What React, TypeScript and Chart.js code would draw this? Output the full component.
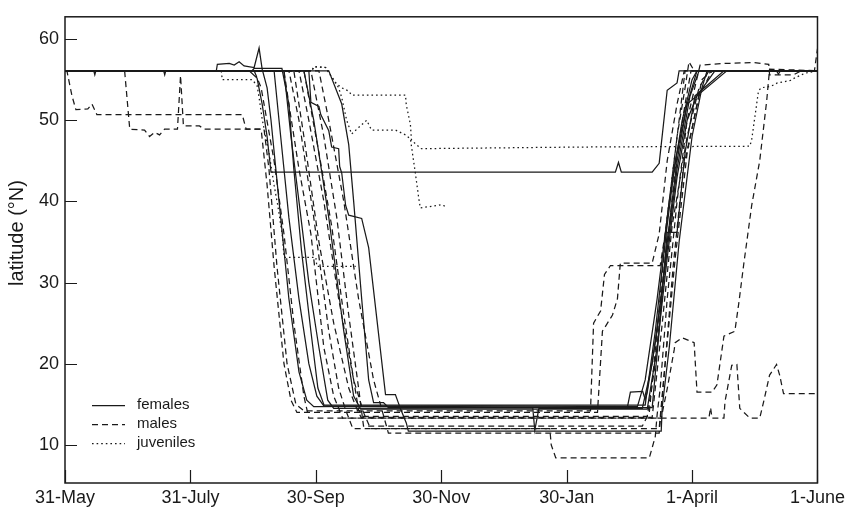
import { useEffect, useRef } from "react";
import { Chart, registerables } from "chart.js";

Chart.register(...registerables);

// x values are days since 31 May; y values are latitude (°N)
const xTickDays = [0, 61, 122, 183, 244, 305, 366];
const xTickLabels = ["31-May", "31-July", "30-Sep", "30-Nov", "30-Jan", "1-April", "1-June"];
const yTicks = [10, 20, 30, 40, 50, 60];
const legendLabels = ["females", "males", "juveniles"];

type Pt = [number, number];

// ---- females (solid) ----
const female1: Pt[] = [[0, 56.1], [89.6, 56.1], [93.4, 55.2], [95.9, 52], [98.3, 48], [100.2, 43.6], [267.7, 43.6], [269.2, 44.8], [270.6, 43.6], [285.6, 43.6], [289, 44.7], [290, 47], [292.9, 53.7], [297.7, 54.6], [298.7, 56.1], [366, 56.1]];
const female2: Pt[] = [[0, 56.1], [73.6, 56.1], [74.1, 56.9], [79.9, 57.0], [82.3, 56.8], [84.7, 57.2], [87.1, 56.7], [92, 56.5], [94.4, 58.9], [95.9, 56.3], [98.3, 54], [100.2, 50], [104.1, 40], [108.9, 28], [113.8, 19], [117.6, 15.5], [121, 14.7], [200, 14.8], [278.4, 14.7], [282.2, 18], [288, 28], [293.9, 40], [300.2, 50], [305, 55], [307.4, 56.1], [346, 56.1], [347, 55.7], [348, 56.1], [366, 56.1]];
const female3: Pt[] = [[0, 56.1], [118.6, 56.1], [119.6, 52.2], [123.5, 51.7], [124.4, 50.7], [128.3, 48.7], [129.7, 46.7], [133.1, 46.5], [133.6, 44.3], [134.6, 43.5], [136.5, 39.5], [138, 38.3], [144.3, 37.9], [147.7, 34.3], [155.9, 16.2], [160.7, 16.2], [163.1, 14.5], [166, 12.7], [167, 11.7], [290, 11.7], [290.5, 14.7], [293.9, 22], [298.7, 35], [305, 48], [309.8, 54], [312.3, 56.1], [366, 56.1]];
const female4: Pt[] = [[0, 56.1], [14, 56.1], [14.5, 55.6], [15, 56.1], [101.7, 56.1], [104.1, 50], [108.9, 38], [113.8, 28], [118.6, 20], [122.5, 16], [125.9, 14.8], [273.5, 14.6], [275, 16.5], [281, 16.6], [282.2, 15.6], [283.2, 16.5], [288, 24], [292.9, 35], [297.7, 45], [302.6, 52], [307.4, 56.1], [366, 56.1]];
const female5: Pt[] = [[0, 56.1], [106.5, 56.1], [109.9, 48], [113.8, 40], [118.6, 30], [123.5, 22], [127.8, 15.5], [130.7, 14.5], [227.5, 14.6], [228.5, 11.8], [230.5, 14.5], [280.8, 14.5], [285.6, 20], [291.9, 32], [297.7, 44], [304, 53], [308.4, 56.1], [366, 56.1]];
const female6: Pt[] = [[0, 56.1], [48, 56.1], [48.5, 55.6], [49, 56.1], [116.2, 56.1], [121, 50], [128.3, 38], [135.6, 24], [140.4, 16], [143.8, 14.4], [283.2, 14.4], [288, 22], [292.9, 33], [297.7, 43], [302.6, 50], [307.4, 53], [316.1, 56.1], [366, 56.1]];
const female7: Pt[] = [[0, 56.1], [128.3, 56.1], [134.6, 52], [138, 47], [140.4, 40], [144.3, 28], [147.7, 18], [150.1, 15.2], [154.9, 15.2], [157.3, 14.6], [285.6, 14.6], [289, 24], [292.9, 36.2], [297.7, 36.2], [301.6, 46], [306.4, 53], [320.5, 56.1], [366, 56.1]];
const female8: Pt[] = [[0, 56.1], [91, 56.1], [92, 56.4], [105.5, 56.4], [108.9, 52], [111.3, 44], [115, 34], [119.6, 24], [123, 17], [126, 14.9], [282.2, 14.9], [287.1, 24], [291.9, 35], [296.8, 45], [302.6, 52], [321.9, 56.1], [366, 56.1]];

// ---- males (dashed) ----
const male1: Pt[] = [[0, 56.1], [1, 56], [3.4, 53], [5.3, 51.3], [11.1, 51.4], [13.1, 52], [15.5, 50.7], [86.2, 50.7], [88.1, 48.9], [96.8, 48.9], [99.2, 44], [103.1, 32], [108, 20], [112.3, 15], [116.2, 14.2], [255.6, 14.2], [257.1, 25], [260.5, 26.5], [262.4, 31], [265.3, 32.1], [289.5, 32.1], [291.9, 36], [293.9, 40], [297.7, 48], [301.6, 54], [303.5, 57.2], [306, 56.1], [366, 56.1]];
const male2: Pt[] = [[0, 56.1], [29, 56.1], [31.5, 48.9], [38.7, 48.8], [41.1, 48.0], [43.6, 48.5], [46, 48.2], [48.4, 48.9], [54.7, 48.9], [56.2, 55.5], [57.6, 49.3], [65.4, 49.3], [67.8, 48.9], [95.4, 48.9], [98.3, 42], [101.7, 32], [106.5, 20], [109.9, 15.5], [112.8, 14.0], [259, 14.0], [261.4, 24], [266.3, 26], [268.7, 28], [270.1, 32.4], [285.6, 32.4], [289, 36], [292.9, 45], [297.7, 52], [301.2, 56.1], [366, 56.1]];
const male3: Pt[] = [[0, 56.1], [92, 56.1], [95.4, 54], [101.7, 45], [106.5, 36], [111.3, 25], [116.2, 16], [118.6, 13.3], [290, 13.3], [292.9, 16.9], [296.3, 21.7], [296.8, 22.6], [300.2, 23.2], [306, 22.6], [307.4, 16.5], [314.7, 16.5], [317.1, 17.4], [320.5, 23.4], [325.8, 24], [327.7, 27.4], [330.1, 32.2], [334, 39.5], [337.9, 45], [341.3, 52.4], [342.7, 56.3], [366, 56.1]];
const male4: Pt[] = [[0, 56.1], [106.5, 56.1], [108.9, 52], [113.8, 44], [119.6, 36], [125.9, 22], [130.7, 16], [133.1, 14.5], [135, 13.3], [313.2, 13.3], [314, 14.6], [314.7, 13.3], [320.5, 13.3], [321, 15.3], [324.3, 19.8], [326.8, 19.9], [328.2, 14.5], [333.1, 13.3], [337.9, 13.3], [339.8, 15.3], [342.7, 18.6], [346.1, 19.9], [347.6, 18.6], [349.5, 16.3], [365.5, 16.3]];
const male5: Pt[] = [[0, 56.1], [108.9, 56.1], [113.8, 50], [121, 38], [128.3, 24], [133.1, 17], [136.5, 14.3], [140, 12.0], [235.8, 12.0], [236.5, 10], [238.7, 8.4], [284.2, 8.4], [287.1, 11], [288, 13.7], [289.5, 17], [292.9, 28], [297.7, 40], [302.6, 50], [308.9, 56.8], [320, 57.0], [335, 57.1], [342.3, 56.9], [342.7, 55.6], [354.4, 55.6], [358.2, 56.1], [366, 56.1]];
const male6: Pt[] = [[0, 56.1], [116.2, 56.1], [123.5, 46], [129.7, 37], [135.6, 26], [140.4, 18], [142.8, 14.3], [145.2, 13.5], [283.2, 13.5], [287.1, 20], [291.9, 32], [296.8, 44], [301.6, 52], [304.5, 56.1], [366, 56.1]];
const male7: Pt[] = [[0, 56.1], [119.6, 56.1], [125.9, 48], [132.2, 38], [138, 26], [142.8, 17], [145.2, 12.3], [280.8, 12.3], [284.2, 14], [288, 24], [292.9, 38], [298.7, 50], [301.6, 56.1], [364.5, 56.1], [366, 58.8]];
const male8: Pt[] = [[0, 56.1], [113.8, 56.1], [118.6, 50], [125.9, 40], [133.1, 28], [140.4, 18], [145.2, 14], [148.6, 12.0], [289, 12.0], [291.9, 20], [295.8, 32], [300.7, 44], [308.4, 53], [314.7, 56.1], [366, 56.1]];
const male9: Pt[] = [[0, 56.1], [123.5, 56.1], [128.3, 50], [135.6, 40], [142.8, 28], [150.1, 18], [157.3, 11.45], [289, 11.45], [291.9, 20], [296.8, 33], [302.6, 46], [309.8, 55], [314.7, 56.1], [366, 56.1]];
const male10: Pt[] = [[0, 56.1], [111.3, 56.1], [116.2, 48], [123.5, 35], [130.7, 25], [138, 17], [141.8, 14.5], [144, 13.4], [285.6, 13.4], [290.5, 25], [295.3, 37], [302.6, 48], [308.4, 54], [313.2, 56.1], [366, 56.1]];

// ---- juveniles (dotted) ----
const juvenile1: Pt[] = [[0, 56.1], [120.1, 56.1], [121, 56.6], [126.8, 56.5], [129.3, 55.5], [131.7, 54.6], [134.6, 54.0], [138, 53.6], [139.4, 53.1], [165.6, 53.1], [166, 51.9], [168, 49.5], [168.5, 47.6], [170.4, 47.1], [173.3, 46.5], [250, 46.7], [333.1, 46.8], [334, 47.6], [337.3, 53.6], [338.6, 54.0], [343.5, 54.2], [346.5, 54.6], [352.8, 54.9], [354.8, 55.2], [360, 55.8], [366, 56.1]];
const juvenile2: Pt[] = [[0, 56.1], [120.1, 56.1], [121, 56.6], [126.8, 56.5], [129.3, 55.5], [131.7, 54.6], [133.1, 54.0], [134.6, 52.8], [137, 50.0], [139.4, 48.3], [142.8, 49.1], [146.7, 50.0], [149.1, 48.8], [160.7, 48.8], [165.6, 48.2], [168, 47.7], [170.4, 43.5], [171.9, 40.7], [172.8, 39.2], [178.2, 39.4], [183, 39.6], [184.9, 39.4]];
const juvenile3: Pt[] = [[0, 56.1], [76, 56.1], [76.5, 55.0], [91, 55.0], [93.4, 54.3], [94.4, 52.8], [96, 50], [99.2, 46], [101.7, 42], [103.5, 39.5], [105.9, 35.5], [106.5, 33.1], [122, 33.1], [122.5, 32.0], [141.4, 32.0]];

const females = [female1, female2, female3, female4, female5, female6, female7, female8];
const males = [male1, male2, male3, male4, male5, male6, male7, male8, male9, male10];
const juveniles = [juvenile1, juvenile2, juvenile3];

const FONT = '"Liberation Sans", Arial, Helvetica, sans-serif';
const INK = "#1a1a1a";
const DASH_MALE = [6, 4];
const DASH_JUV = [1.6, 3];

export default function App() {
  const ref = useRef<HTMLCanvasElement | null>(null);

  useEffect(() => {
    const canvas = ref.current;
    if (!canvas) return;

    const mk = (tracks: Pt[][], label: string, dash: number[]) =>
      tracks.map((t, i) => ({
        label: label + " " + (i + 1),
        data: t.map(([x, y]) => ({ x, y })),
        borderColor: INK,
        borderWidth: 1.25,
        borderDash: dash,
        pointRadius: 0,
        fill: false,
        tension: 0,
      }));

    const frame = {
      id: "frame",
      afterDatasetsDraw(chart: any) {
        const { ctx, chartArea: a, scales } = chart;
        ctx.save();
        ctx.setLineDash([]);
        ctx.strokeStyle = INK;
        ctx.lineWidth = 1.5;
        ctx.strokeRect(a.left, a.top, a.right - a.left, a.bottom - a.top);
        ctx.lineWidth = 1.2;
        ctx.beginPath();
        for (const d of xTickDays) {
          const px = Math.round(scales.x.getPixelForValue(d)) + 0.5;
          ctx.moveTo(px, a.bottom);
          ctx.lineTo(px, a.bottom - 13);
        }
        for (const v of yTicks) {
          const py = Math.round(scales.y.getPixelForValue(v)) + 0.5;
          ctx.moveTo(a.left, py);
          ctx.lineTo(a.left + 12, py);
        }
        ctx.stroke();

        // legend
        const dashes = [[], DASH_MALE, DASH_JUV];
        const rows = [405, 424, 443];
        ctx.font = "15px " + FONT;
        ctx.textAlign = "left";
        ctx.textBaseline = "middle";
        ctx.fillStyle = INK;
        legendLabels.forEach((lab, i) => {
          ctx.beginPath();
          ctx.setLineDash(dashes[i]);
          ctx.lineWidth = 1.25;
          ctx.moveTo(92, rows[i] + 0.5);
          ctx.lineTo(125, rows[i] + 0.5);
          ctx.stroke();
          ctx.fillText(lab, 137, rows[i]);
        });
        ctx.setLineDash([]);

        // y title
        ctx.translate(17, 233);
        ctx.rotate(-Math.PI / 2);
        ctx.textAlign = "center";
        ctx.textBaseline = "middle";
        ctx.font = "20px " + FONT;
        ctx.fillText("latitude (°N)", 0, 0);
        ctx.restore();
      },
    };

    const chart = new Chart(canvas, {
      type: "line",
      data: {
        datasets: [
          ...mk(females, "female", []),
          ...mk(males, "male", DASH_MALE),
          ...mk(juveniles, "juvenile", DASH_JUV),
        ],
      },
      options: {
        animation: false,
        responsive: false,
        devicePixelRatio: 1,
        layout: { padding: { top: 7, right: 28, left: 0, bottom: 0 } },
        plugins: { legend: { display: false }, tooltip: { enabled: false } },
        scales: {
          x: {
            type: "linear",
            min: 0,
            max: 366,
            grid: { display: false, drawTicks: false },
            border: { display: false },
            afterFit: (s: any) => {
              s.height = 26;
            },
            afterBuildTicks: (s: any) => {
              s.ticks = xTickDays.map((v) => ({ value: v }));
            },
            ticks: {
              padding: 4,
              color: INK,
              font: { family: FONT, size: 18 },
              maxRotation: 0,
              autoSkip: false,
              callback: (v: any) => {
                const i = xTickDays.indexOf(Number(v));
                return i >= 0 ? xTickLabels[i] : "";
              },
            },
          },
          y: {
            type: "linear",
            min: 5.3,
            max: 62.75,
            grid: { display: false, drawTicks: false },
            border: { display: false },
            afterFit: (s: any) => {
              s.width = 65;
            },
            afterBuildTicks: (s: any) => {
              s.ticks = yTicks.map((v) => ({ value: v }));
            },
            ticks: {
              padding: 6,
              color: INK,
              font: { family: FONT, size: 18 },
              autoSkip: false,
            },
          },
        },
      },
      plugins: [frame],
    });

    return () => chart.destroy();
  }, []);

  return (
    <div style={{ position: "absolute", left: 0, top: 0, width: 849, height: 509, background: "#fff" }}>
      <canvas ref={ref} width={849} height={509} style={{ width: 849, height: 509, display: "block" }} />
    </div>
  );
}
